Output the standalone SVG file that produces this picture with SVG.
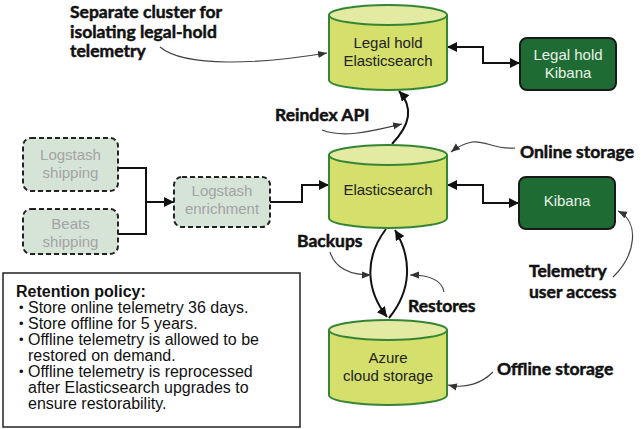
<svg xmlns="http://www.w3.org/2000/svg" width="641" height="429" viewBox="0 0 641 429">
<style>
.cyl{fill:#d4df6c;stroke:#358535;stroke-width:2}
.cyltop{fill:#e3eba2;stroke:#358535;stroke-width:2}
.kib{fill:#1f6b34;stroke:#1a1a1a;stroke-width:2}
.dash{fill:#d6e4d8;stroke:#222;stroke-width:2;stroke-dasharray:5 3}
.t{font-family:"Liberation Sans",Arial,sans-serif;font-size:15px;text-anchor:middle}
.dk{fill:#222}
.wh{fill:#e8f2e8}
.gr{fill:#a3a3a3}
.lbl{font-family:Lato,"Liberation Sans",sans-serif;font-weight:bold;font-size:17.5px;fill:#111;stroke:#111;stroke-width:0.5}
.conn{fill:none;stroke:#111;stroke-width:2}
.ptr{fill:none;stroke:#444;stroke-width:1.2}
.note{font-family:"Liberation Sans",Arial,sans-serif;font-size:16px;fill:#111}
.bul{font-family:"Liberation Sans",Arial,sans-serif;font-size:13px;fill:#111}
</style>
<defs>
<marker id="ah" viewBox="0 0 10 10" refX="10" refY="5" markerWidth="10" markerHeight="10" markerUnits="userSpaceOnUse" orient="auto-start-reverse">
<path d="M0,0 L10,5 L0,10 z" fill="#111"/>
</marker>
<marker id="ap" viewBox="0 0 10 10" refX="10" refY="5" markerWidth="9" markerHeight="9" markerUnits="userSpaceOnUse" orient="auto">
<path d="M0,1 L10,5 L0,9 z" fill="#333"/>
</marker>
</defs>

<g id="connectors">
<path class="conn" d="M447,47 H483 V63 H520" marker-start="url(#ah)" marker-end="url(#ah)"/>
<path class="conn" d="M447,185 H483 V203 H519" marker-start="url(#ah)" marker-end="url(#ah)"/>
<path class="conn" d="M118,168 H146 V234 H118"/>
<path class="conn" d="M146,202 H174" marker-end="url(#ah)"/>
<path class="conn" d="M270,202 H302 V185 H329" marker-end="url(#ah)"/>
<path class="conn" d="M392,144 C410,125 414,108 399,91" marker-end="url(#ah)"/>
<path class="conn" d="M386,229 C364,258 366,290 387,317" marker-end="url(#ah)"/>
<path class="conn" d="M389,318 C412,290 412,258 395,230" marker-end="url(#ah)"/>
<path class="ptr" d="M160,47 C185,68 260,64 327,53" marker-end="url(#ap)"/>
<path class="ptr" d="M322,130 C345,139 375,130 402,124" marker-end="url(#ap)"/>
<path class="ptr" d="M515,148 C495,150 485,140 472,142 C462,144 456,148 451,152" marker-end="url(#ap)"/>
<path class="ptr" d="M330,252 C335,268 350,275 371,275" marker-end="url(#ap)"/>
<path class="ptr" d="M444,292 C442,280 430,275 410,275" marker-end="url(#ap)"/>
<path class="ptr" d="M493,372 C482,383 466,389 448,385" marker-end="url(#ap)"/>
<path class="ptr" d="M613,277 C636,255 640,222 618,211" marker-end="url(#ap)"/>
</g>

<g id="legal-es">
<path class="cyl" d="M329,15 V80 A59,10 0 0 0 447,80 V15"/>
<ellipse class="cyltop" cx="388" cy="15" rx="59" ry="10"/>
<text class="t dk" x="388" y="48">Legal hold</text>
<text class="t dk" x="388" y="66">Elasticsearch</text>
</g>

<g id="legal-kibana">
<rect class="kib" x="520" y="38" width="96" height="52" rx="7"/>
<text class="t wh" x="568" y="60">Legal hold</text>
<text class="t wh" x="568" y="78">Kibana</text>
</g>

<g id="es">
<path class="cyl" d="M329,155 V218 A59,10 0 0 0 447,218 V155"/>
<ellipse class="cyltop" cx="388" cy="155" rx="59" ry="10"/>
<text class="t dk" x="388" y="195">Elasticsearch</text>
</g>

<g id="kibana">
<rect class="kib" x="519" y="177" width="96" height="52" rx="7"/>
<text class="t wh" x="567" y="206">Kibana</text>
</g>

<g id="azure">
<path class="cyl" d="M329,330 V395 A59,10 0 0 0 447,395 V330"/>
<ellipse class="cyltop" cx="388" cy="330" rx="59" ry="10"/>
<text class="t dk" x="388" y="363">Azure</text>
<text class="t dk" x="388" y="381">cloud storage</text>
</g>

<g id="logstash-shipping">
<rect class="dash" x="23" y="138" width="95" height="53" rx="8"/>
<text class="t gr" x="70.5" y="160">Logstash</text>
<text class="t gr" x="70.5" y="178">shipping</text>
</g>

<g id="beats-shipping">
<rect class="dash" x="23" y="209" width="95" height="45" rx="8"/>
<text class="t gr" x="70.5" y="229">Beats</text>
<text class="t gr" x="70.5" y="247">shipping</text>
</g>

<g id="logstash-enrichment">
<rect class="dash" x="174" y="177" width="96" height="50" rx="8"/>
<text class="t gr" x="222" y="196">Logstash</text>
<text class="t gr" x="222" y="214">enrichment</text>
</g>

<g id="labels">
<text class="lbl" x="70" y="18">Separate cluster for</text>
<text class="lbl" x="70" y="38">isolating legal-hold</text>
<text class="lbl" x="70" y="57">telemetry</text>
<text class="lbl" x="275" y="121">Reindex API</text>
<text class="lbl" x="520" y="158">Online storage</text>
<text class="lbl" x="297" y="247">Backups</text>
<text class="lbl" x="408" y="312">Restores</text>
<text class="lbl" x="497" y="375">Offline storage</text>
<text class="lbl" x="529" y="277">Telemetry</text>
<text class="lbl" x="529" y="298">user access</text>
</g>

<g id="retention-policy">
<rect x="3" y="273" width="297" height="154" fill="#fff" stroke="#222" stroke-width="1.5"/>
<text class="note" x="16" y="297" font-weight="bold">Retention policy:</text>
<text class="bul" x="19" y="312">•</text>
<text class="note" x="28" y="313">Store online telemetry 36 days.</text>
<text class="bul" x="19" y="328">•</text>
<text class="note" x="28" y="329">Store offline for 5 years.</text>
<text class="bul" x="19" y="344">•</text>
<text class="note" x="28" y="345">Offline telemetry is allowed to be</text>
<text class="note" x="28" y="361">restored on demand.</text>
<text class="bul" x="19" y="376">•</text>
<text class="note" x="28" y="377">Offline telemetry is reprocessed</text>
<text class="note" x="28" y="393">after Elasticsearch upgrades to</text>
<text class="note" x="28" y="409">ensure restorability.</text>
</g>
</svg>
